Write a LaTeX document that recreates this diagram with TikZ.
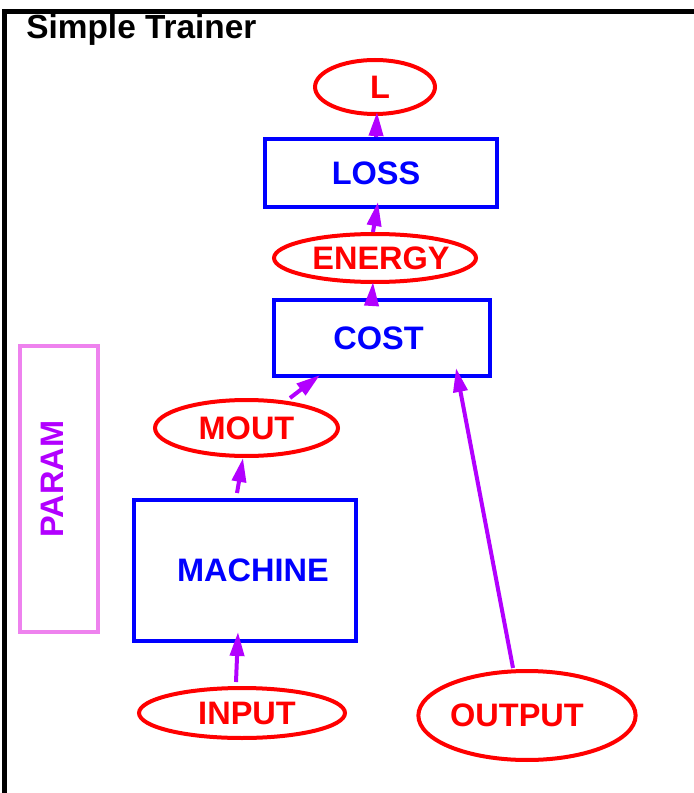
\documentclass[tikz,border=0pt]{standalone}
\usepackage{fontspec}
\setmainfont{Liberation Sans}
\usepackage{tikz}
\usetikzlibrary{arrows.meta,shapes.geometric,calc}
\definecolor{boxblue}{RGB}{0,0,255}
\definecolor{ellred}{RGB}{255,0,0}
\definecolor{arrpurple}{RGB}{178,0,255}
\definecolor{parampink}{RGB}{238,130,238}

\begin{document}
\begin{tikzpicture}[
  x=0.02cm, y=-0.02cm,
  box/.style={rectangle, draw=boxblue, line width=0.08cm, inner sep=0pt,
              text=boxblue, font=\fontsize{18.5}{22}\selectfont\bfseries},
  ebox/.style={ellipse, draw=ellred, line width=0.08cm, inner sep=0pt,
              text=ellred, font=\fontsize{18.5}{22}\selectfont\bfseries},
  pbox/.style={rectangle, draw=parampink, line width=0.08cm, inner sep=0pt},
  arr/.style={-{Triangle[length=0.48cm, width=0.28cm]}, line width=0.08cm,
              color=arrpurple}
]
\useasboundingbox (0,0) rectangle (693,793);
% ── frame and title ─────────────
\draw[line width=0.1cm] (4.5,800) -- (4.5,11.5) -- (700,11.5);
\node[anchor=base west, inner sep=0pt, font=\fontsize{19}{23}\selectfont\bfseries]
  (title) at (26,39) {Simple Trainer};

% ── trainer stack ─────────────
\node[ebox, minimum width=2.4cm, minimum height=1.08cm] (lout) at (375,87)
  {\hspace*{0.2cm}L};
\node[box, minimum width=4.64cm, minimum height=1.36cm] (loss) at (381,173)
  {LOSS\hspace*{0.2cm}};
\node[ebox, minimum width=4.04cm, minimum height=0.96cm] (energy) at (375,258)
  {\makebox[0.2cm]{\hspace*{0.24cm}ENERGY}};
\node[box, minimum width=4.32cm, minimum height=1.52cm] (cost) at (382,338)
  {COST\hspace*{0.14cm}};
\node[ebox, minimum width=3.66cm, minimum height=1.12cm] (mout) at (246.5,428) {MOUT};
\node[box, minimum width=4.44cm, minimum height=2.82cm] (machine) at (245,570.5)
  {\hspace*{0.32cm}MACHINE};
\node[ebox, minimum width=4.12cm, minimum height=1.0cm] (input) at (242,713)
  {\hspace*{0.2cm}INPUT};
\node[ebox, minimum width=4.32cm, minimum height=1.78cm] (output) at (527,715.5)
  {OUTPUT\hspace*{0.4cm}};

% ── parameters ─────────────
\node[pbox, minimum width=1.56cm, minimum height=5.72cm] (param) at (59,489) {};
\node[rotate=90, inner sep=0pt, text=arrpurple,
      font=\fontsize{18.5}{22}\selectfont\bfseries] (paramlbl) at (52,479) {PARAM};

% ── connections ─────────────
\draw[arr] ($(loss.north)+(-5,0)$) -- ($(lout.south)+(2,-4)$);
\draw[arr] ($(energy.north)+(-2,0)$) -- ($(loss.south)+(-3,-7)$);
\draw[arr] ($(cost.north)+(-10,0)$) -- ($(energy.south)+(-2,-2)$);
\draw[arr] ($(mout.north)+(43.5,0)$) -- ($(cost.south)+(-62,-3)$);
\draw[arr] ($(machine.north)+(-8,-5)$) -- ($(mout.south)+(-3.5,0)$);
\draw[arr] ($(input.north)+(-6,-4)$) -- ($(machine.south)+(-7,-11)$);
\draw[arr] ($(output.north)+(-14,-1)$) -- ($(cost.south)+(74,-10)$);
\end{tikzpicture}
\end{document}
